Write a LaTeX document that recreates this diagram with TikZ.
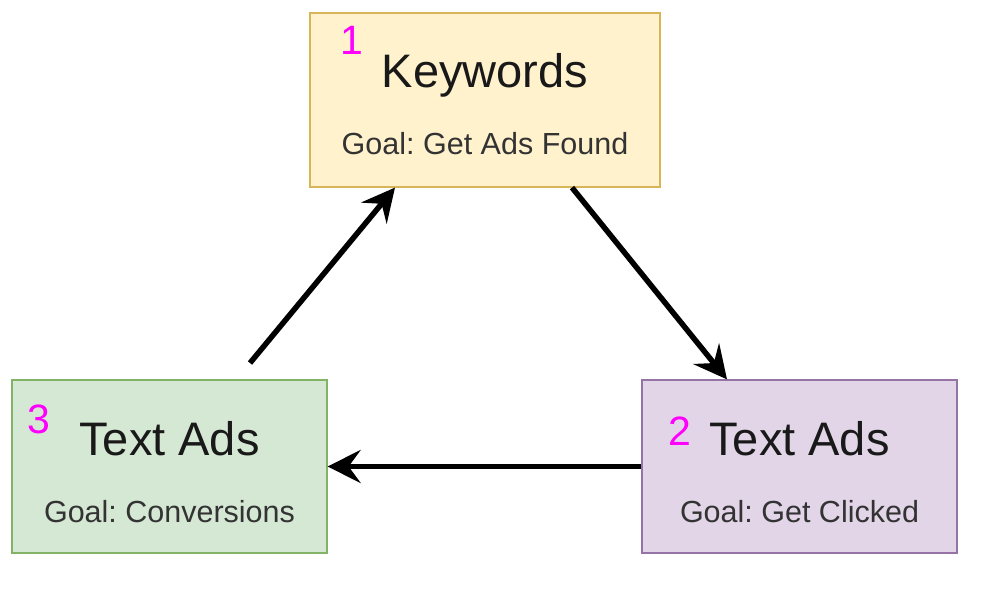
\documentclass[tikz,border=0pt]{standalone}
\usepackage{fontspec}
\setmainfont{Liberation Sans}
\usepackage{xcolor}
\usetikzlibrary{arrows.meta,positioning}

\definecolor{kwfill}{HTML}{FFF2CC}
\definecolor{kwdraw}{HTML}{D6B656}
\definecolor{convfill}{HTML}{D5E8D4}
\definecolor{convdraw}{HTML}{82B366}
\definecolor{clickfill}{HTML}{E1D5E7}
\definecolor{clickdraw}{HTML}{9673A6}
\definecolor{numpink}{HTML}{FF00FF}
\frenchspacing

\begin{document}
\begin{tikzpicture}[
    x=1pt, y=-1pt,
    >={Stealth[length=33pt,width=33pt,inset=12pt]},
    box/.style={
        draw,
        line width=1.2pt,
        minimum width=315pt,
        minimum height=173pt,
        inner sep=0pt
    },
    title/.style={
        font=\fontsize{47}{56}\selectfont,
        text=black!90,
        anchor=base,
        inner sep=0pt
    },
    goal/.style={
        font=\fontsize{30.5}{36}\selectfont,
        text=black!80,
        anchor=base,
        inner sep=0pt
    },
    numlabel/.style={
        font=\fontsize{41}{48}\selectfont,
        text=numpink,
        anchor=base,
        inner sep=0pt
    },
    edge/.style={->, line width=5.5pt}
]
\useasboundingbox (0,0) rectangle (987,596);

\node[box, fill=kwfill, draw=kwdraw, minimum width=350pt, minimum height=174pt] (kw) at (485,100) {};
\node[box, fill=convfill, draw=convdraw] (conv) at (169.5,466.5) {};
\node[box, fill=clickfill, draw=clickdraw] (click) at (799.5,466.5) {};

\node[title] (kwtitle) at ([yshift=12pt]kw.center) {Keywords};
\node[goal] (kwgoal) at ([yshift=-55pt]kw.center) {Goal: Get Ads Found};

\node[title] (clicktitle) at ([yshift=11.5pt]click.center) {Text Ads};
\node[goal] (clickgoal) at ([yshift=-55.5pt]click.center) {Goal: Get Clicked};

\node[title] (convtitle) at ([yshift=11.5pt]conv.center) {Text Ads};
\node[goal] (convgoal) at ([yshift=-55.5pt]conv.center) {Goal: Conversions};

\node[numlabel] (num1) at (352,55) {1};
\node[numlabel] (num2) at (680,445) {2};
\node[numlabel] (num3) at (39,433) {3};

\coordinate (upstart) at (250,363);
\draw[edge] (upstart) -- ([xshift=-90pt]kw.south);
\draw[edge] ([xshift=87pt]kw.south) -- ([xshift=-72.5pt]click.north);
\draw[edge] (click.west) -- (conv.east);

\end{tikzpicture}
\end{document}
